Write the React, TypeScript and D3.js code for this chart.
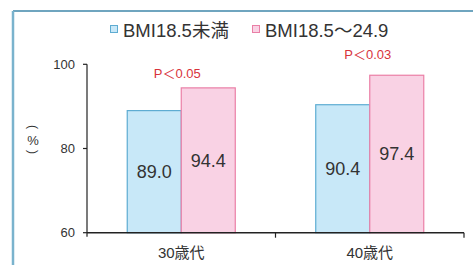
import React from "react";
import * as d3 from "d3";

const categories = ["30歳代", "40歳代"];
const seriesNames = ["BMI18.5未満", "BMI18.5～24.9"];
const underweight = [89.0, 90.4];
const normal = [94.4, 97.4];
const pLabels = ["P＜0.05", "P＜0.03"];
const yTicks = [60, 80, 100];

const fills = ["#c8e8f8", "#f9d2e4"];
const strokes = ["#5eacd2", "#ea7fa6"];
const FONT = "'Liberation Sans', Arial, 'Noto Sans CJK JP', sans-serif";

export default function App() {
  const W = 473, H = 265;
  const x0 = 87, x1 = 464, yTop = 64.3, yBot = 232.7;
  const y = d3.scaleLinear().domain([60, 100]).range([yBot, yTop]);
  const xb = d3.scaleBand().domain(categories).range([x0, x1]).paddingInner(0).paddingOuter(0);
  const xs = d3.scaleBand().domain(seriesNames).range([0, xb.bandwidth()]).paddingInner(0).paddingOuter(0.745);
  const series = [underweight, normal];
  const pOffsets = [14, 20];
  const pDx = [-4, -2];

  return (
    <svg width={W} height={H} style={{ position: "absolute", left: 0, top: 0 }}>
      <rect x={0} y={0} width={W} height={H} fill="#fff" />
      {/* frame */}
      <line x1={13} y1={11} x2={W} y2={11} stroke="#3f87aa" strokeWidth={1.5} />
      <line x1={13} y1={11} x2={13} y2={H} stroke="#7ab3cd" strokeWidth={2.5} />

      {/* legend */}
      <rect x={110.5} y={25.5} width={7} height={7} fill={fills[0]} stroke={strokes[0]} />
      <text x={123} y={36.5} fontFamily={FONT} fontSize={18.5} fill="#333">{seriesNames[0]}</text>
      <rect x={252.5} y={25.5} width={7} height={7} fill={fills[1]} stroke={strokes[1]} />
      <text x={265} y={36.5} fontFamily={FONT} fontSize={18.5} fill="#333">{seriesNames[1]}</text>

      {/* y label vertical */}
      <g fontFamily={FONT} fill="#333" textAnchor="middle">
        <text x={0} y={0} fontSize={12} transform="translate(33,127) rotate(90)" dy="0.35em">(</text>
        <text x={33} y={144.5} fontSize={13}>%</text>
        <text x={0} y={0} fontSize={12} transform="translate(33,152) rotate(90)" dy="0.35em">)</text>
      </g>

      {/* bars */}
      {categories.map((c, i) => (
        <g key={c} transform={`translate(${xb(c)},0)`}>
          {seriesNames.map((s, j) => {
            const v = series[j][i];
            const bx = xs(s)!;
            const by = y(v);
            return (
              <g key={s}>
                <rect x={bx} y={by} width={xs.bandwidth()} height={yBot - by} fill={fills[j]} stroke={strokes[j]} strokeWidth={1.2} />
                <text x={bx + xs.bandwidth() / 2} y={(by + yBot) / 2 + 6.5} textAnchor="middle" fontFamily={FONT} fontSize={18} fill="#333">
                  {v.toFixed(1)}
                </text>
              </g>
            );
          })}
          <text
            x={xb.bandwidth() / 2 + pDx[i]}
            y={y(normal[i]) - pOffsets[i] + 4}
            textAnchor="middle"
            fontFamily={FONT}
            fontSize={13}
            fill="#d8333b"
          >
            {pLabels[i]}
          </text>
          <text x={xb.bandwidth() / 2} y={258} textAnchor="middle" fontFamily={FONT} fontSize={15} fill="#333">{c}</text>
        </g>
      ))}

      {/* axes */}
      <line x1={x0} y1={yTop} x2={x0} y2={yBot + 4} stroke="#222" strokeWidth={1.2} />
      <line x1={x0} y1={yBot} x2={x1} y2={yBot} stroke="#222" strokeWidth={1.5} />
      {yTicks.map((t) => (
        <g key={t}>
          <line x1={x0 - 4} y1={y(t)} x2={x0} y2={y(t)} stroke="#222" strokeWidth={1.2} />
          <text x={75} y={y(t) + 4.5} textAnchor="end" fontFamily={FONT} fontSize={13} fill="#333">{t}</text>
        </g>
      ))}
      {categories.map((c) => (
        <line key={c} x1={xb(c)! + xb.bandwidth()} y1={yBot} x2={xb(c)! + xb.bandwidth()} y2={yBot + 5} stroke="#222" strokeWidth={1.2} />
      ))}
    </svg>
  );
}
